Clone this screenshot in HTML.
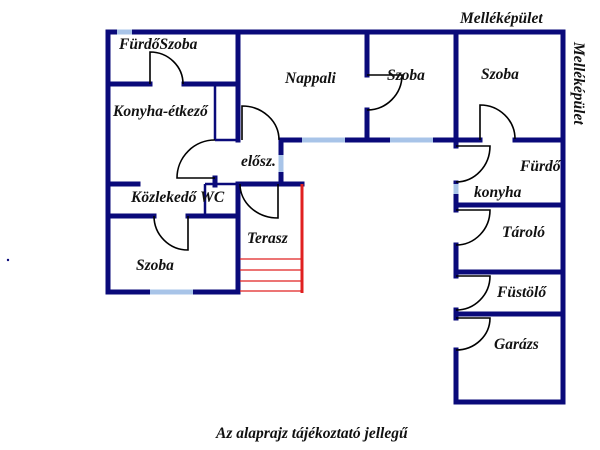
<!DOCTYPE html>
<html><head><meta charset="utf-8"><style>
html,body{margin:0;padding:0;background:#fff;width:600px;height:450px;overflow:hidden}
text{font-family:"Liberation Serif",serif;font-style:italic;font-weight:bold;fill:#111;font-size:15.5px}
</style></head><body>
<svg width="600" height="450" viewBox="0 0 600 450" xmlns="http://www.w3.org/2000/svg">
<g stroke="#0a0a7a" stroke-width="5" fill="none" stroke-linecap="square">
<line x1="108" y1="32" x2="563" y2="32"/>
<line x1="108" y1="32" x2="108" y2="292"/>
<line x1="108" y1="292" x2="238" y2="292"/>
<line x1="238" y1="32" x2="238" y2="140"/>
<line x1="238" y1="184" x2="238" y2="292"/>
<line x1="108" y1="84" x2="150" y2="84"/>
<line x1="184" y1="84" x2="238" y2="84"/>
<line x1="108" y1="184" x2="138" y2="184"/>
<line x1="108" y1="216" x2="154" y2="216"/>
<line x1="188" y1="216" x2="238" y2="216"/>
<line x1="215" y1="178" x2="215" y2="185"/>
<line x1="281" y1="140" x2="455" y2="140"/>
<line x1="367" y1="32" x2="367" y2="75"/>
<line x1="367" y1="110" x2="367" y2="140"/>
<line x1="281" y1="140" x2="281" y2="184"/>
<line x1="238" y1="184" x2="302" y2="184"/>
<line x1="563" y1="32" x2="563" y2="402"/>
<line x1="456" y1="32" x2="456" y2="146"/>
<line x1="456" y1="183" x2="456" y2="210"/>
<line x1="456" y1="245" x2="456" y2="276"/>
<line x1="456" y1="310" x2="456" y2="318"/>
<line x1="456" y1="350" x2="456" y2="402"/>
<line x1="456" y1="402" x2="563" y2="402"/>
<line x1="456" y1="140" x2="480" y2="140"/>
<line x1="515" y1="140" x2="563" y2="140"/>
<line x1="456" y1="205" x2="563" y2="205"/>
<line x1="456" y1="272" x2="563" y2="272"/>
<line x1="456" y1="314" x2="563" y2="314"/>
</g>
<g stroke="#0a0a7a" stroke-width="2.5" fill="none">
<line x1="215" y1="84" x2="215" y2="140"/>
<line x1="215" y1="140" x2="238" y2="140"/>
<line x1="205" y1="184" x2="205" y2="216"/>
<line x1="205" y1="184" x2="238" y2="184"/>
</g>
<g stroke="#a8c4e8" stroke-width="5">
<line x1="117" y1="32" x2="132" y2="32"/>
<line x1="302" y1="140" x2="345" y2="140"/>
<line x1="390" y1="140" x2="433" y2="140"/>
<line x1="281" y1="155" x2="281" y2="172"/>
<line x1="150" y1="292" x2="193" y2="292"/>
<line x1="456" y1="184" x2="456" y2="194"/>
</g>
<g stroke="#000" stroke-width="1.6" fill="none">
<path d="M150,84 L150,52 A33,32 0 0 1 183,84"/>
<path d="M215,140 A38,38 0 0 0 177,178 L215,178"/>
<path d="M242,140 L242,106 A37,34 0 0 1 279,140"/>
<path d="M240,184 A38,34 0 0 0 278,218 L278,184"/>
<path d="M154,216 A34,34 0 0 0 188,250 L188,216"/>
<path d="M367,75 L402,75 A35,35 0 0 1 367,110"/>
<path d="M480,140 L480,105 A35,34 0 0 1 515,139"/>
<path d="M456,146 L490,146 A34,36 0 0 1 456,182"/>
<path d="M456,210 L490,210 A34,35 0 0 1 456,245"/>
<path d="M456,276 L490,276 A34,34 0 0 1 456,310"/>
<path d="M456,318 L490,318 A34,32 0 0 1 456,350"/>
</g>
<g stroke="#e02020" stroke-width="1.2">
<line x1="240" y1="259" x2="302" y2="259"/>
<line x1="240" y1="270" x2="302" y2="270"/>
<line x1="240" y1="281" x2="302" y2="281"/>
<line x1="240" y1="291" x2="302" y2="291"/>
</g>
<line x1="302" y1="184" x2="302" y2="293" stroke="#e02020" stroke-width="3"/>
<circle cx="8" cy="260" r="1.2" fill="#0a0a7a"/>
<text x="119" y="49" font-size="15">FürdőSzoba</text>
<text x="113" y="116">Konyha-étkező</text>
<text x="285" y="83">Nappali</text>
<text x="387" y="80" font-size="15">Szoba</text>
<text x="241" y="166" font-size="15">elősz.</text>
<text x="131" y="202">Közlekedő WC</text>
<text x="247" y="243">Terasz</text>
<text x="136" y="270">Szoba</text>
<text x="481" y="79" font-size="15">Szoba</text>
<text x="520" y="171">Fürdő</text>
<text x="474" y="197">konyha</text>
<text x="502" y="237">Tároló</text>
<text x="497" y="297">Füstölő</text>
<text x="494" y="349">Garázs</text>
<text x="460" y="23" font-size="15">Melléképület</text>
<text x="0" y="0" font-size="15" transform="translate(574,42) rotate(90)">Melléképület</text>
<text x="216" y="438" font-size="17">Az alaprajz tájékoztató jellegű</text>
</svg>
</body></html>
